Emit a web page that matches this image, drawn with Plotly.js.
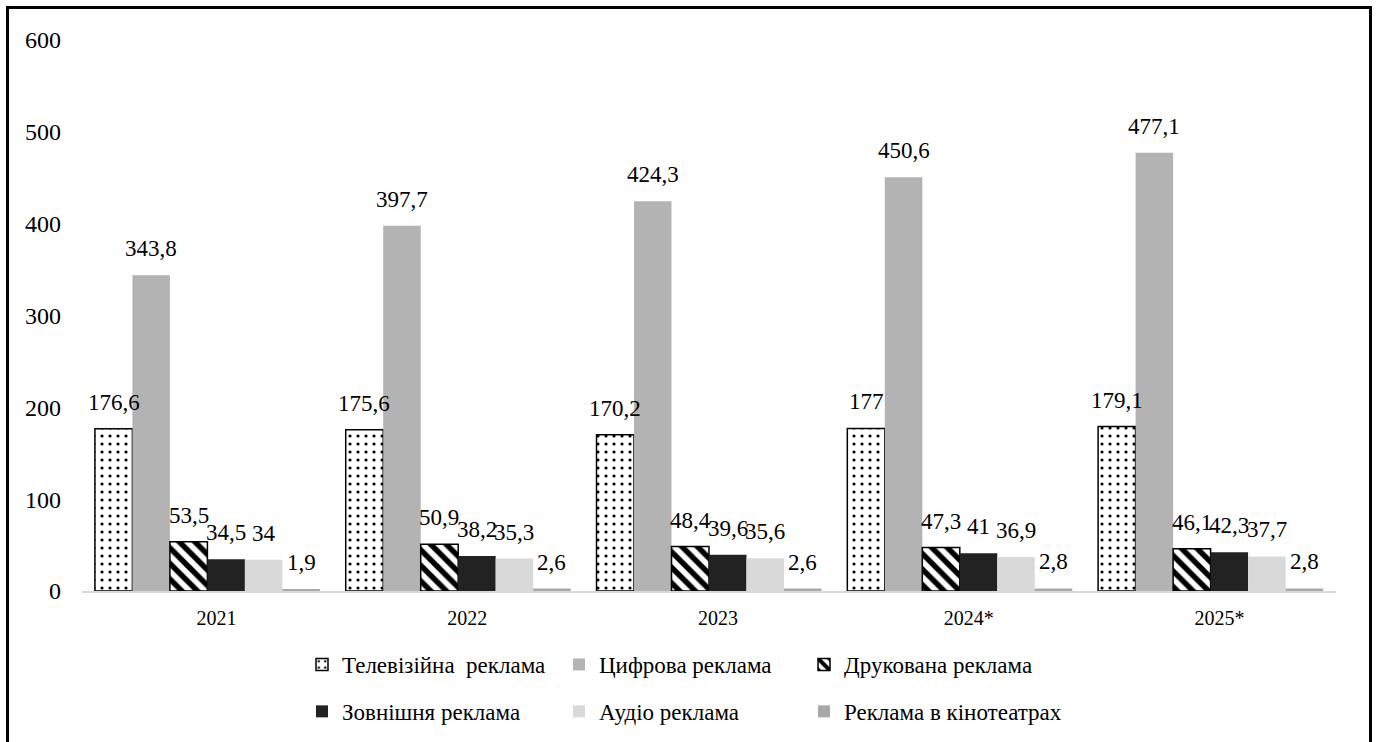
<!DOCTYPE html>
<html>
<head>
<meta charset="utf-8">
<script src="https://cdn.plot.ly/plotly-3.0.1.min.js"></script>
<style>
  html, body { margin: 0; padding: 0; background: #fff; overflow: hidden; }
  #chart { position: absolute; left: 0; top: 0; width: 1376px; height: 742px; }
  #frame { position: absolute; left: 6px; top: 6px; width: 1360px; height: 760px;
           border: 3px solid #000; pointer-events: none; }
</style>
</head>
<body>
<div id="chart"></div>
<div id="frame"></div>
<script>
// ---- data ----
const years = ['2021', '2022', '2023', '2024*', '2025*'];
const seriesNames = ['Телевізійна  реклама', 'Цифрова реклама', 'Друкована реклама',
                     'Зовнішня реклама', 'Аудіо реклама', 'Реклама в кінотеатрах'];
const tvAds      = [176.6, 175.6, 170.2, 177, 179.1];
const digitalAds = [343.8, 397.7, 424.3, 450.6, 477.1];
const printAds   = [53.5, 50.9, 48.4, 47.3, 46.1];
const outdoorAds = [34.5, 38.2, 39.6, 41, 42.3];
const audioAds   = [34, 35.3, 35.6, 36.9, 37.7];
const cinemaAds  = [1.9, 2.6, 2.6, 2.8, 2.8];
const yTicks     = [0, 100, 200, 300, 400, 500, 600];

// ---- layout constants ----
const W = 1376, H = 742;
const M = {l: 82, r: 40, t: 40, b: 151, autoexpand: false};
const bargap = 0.103;
const FONT = 'Liberation Serif, Times New Roman, serif';

const allSeries = [tvAds, digitalAds, printAds, outdoorAds, audioAds, cinemaAds];
const styles = [
  {color: '#ffffff', line: {color: '#000', width: 1.5}, pattern: {shape: '.', fgcolor: '#000', bgcolor: '#fff', size: 8, solidity: 0.12}},
  {color: '#b3b3b3', line: {width: 0}},
  {color: '#ffffff', line: {color: '#000', width: 1.5}, pattern: {shape: '\\', fgcolor: '#000', bgcolor: '#fff', size: 11, solidity: 0.5}},
  {color: '#222222', line: {width: 0}},
  {color: '#d9d9d9', line: {width: 0}},
  {color: '#a8a8a8', line: {width: 0}}
];
const legendOf = ['legend', 'legend2', 'legend3', 'legend', 'legend2', 'legend3'];

const traces = allSeries.map((vals, i) => ({
  type: 'bar',
  name: seriesNames[i],
  x: years,
  y: vals,
  marker: Object.assign({}, {color: styles[i].color, line: styles[i].line}, styles[i].pattern ? {pattern: styles[i].pattern} : {}),
  legend: legendOf[i],
  legendgroup: 'g' + i,
  hoverinfo: 'x+y+name'
}));

// value labels as annotations (centred above each bar)
const plotW = W - M.l - M.r;
const catW = plotW / years.length;
const barW = catW * (1 - bargap) / allSeries.length;
const annotations = [];
allSeries.forEach((vals, i) => {
  vals.forEach((v, j) => {
    annotations.push({
      x: j, y: v, xref: 'x', yref: 'y',          // j = category index of years[j]
      text: String(v).replace('.', ','),
      showarrow: false,
      xanchor: 'center', yanchor: 'bottom',
      xshift: (i - (allSeries.length - 1) / 2) * barW,
      yshift: 12,
      font: {family: FONT, size: 23, color: '#000'}
    });
  });
});

const legendCommon = {
  orientation: 'v',
  xref: 'container', yref: 'container',
  xanchor: 'left', yanchor: 'top',
  font: {family: FONT, size: 23, color: '#000'},
  bgcolor: 'rgba(0,0,0,0)',
  borderwidth: 0,
  tracegroupgap: 14,
  itemclick: false, itemdoubleclick: false
};

const layout = {
  width: W, height: H,
  margin: M,
  paper_bgcolor: '#fff',
  plot_bgcolor: '#fff',
  barmode: 'group',
  bargap: bargap,
  bargroupgap: 0,
  separators: ', ',
  font: {family: FONT, size: 20, color: '#000'},
  showlegend: true,
  xaxis: {
    type: 'category',
    categoryarray: years, categoryorder: 'array',
    range: [-0.5, years.length - 0.5],
    autorange: false,
    showgrid: false,
    showline: true, linecolor: '#d9d9d9', linewidth: 2,
    ticks: '', ticklabelshift: 9, ticklabelstandoff: 8,
    tickfont: {family: FONT, size: 20, color: '#000'},
    automargin: false,
    fixedrange: true
  },
  yaxis: {
    range: [0, 600],
    autorange: false,
    tickvals: yTicks,
    ticktext: yTicks.map(String),
    showgrid: false, zeroline: false, showline: false,
    ticks: '', ticklabelstandoff: 20,
    tickfont: {family: FONT, size: 24, color: '#000'},
    automargin: false,
    fixedrange: true
  },
  legend:  Object.assign({}, legendCommon, {x: 302 / W, y: 1 - 643 / H}),
  legend2: Object.assign({}, legendCommon, {x: 559 / W, y: 1 - 643 / H}),
  legend3: Object.assign({}, legendCommon, {x: 804 / W, y: 1 - 643 / H}),
  annotations: annotations
};

Plotly.newPlot('chart', traces, layout, {displayModeBar: false, staticPlot: false});
</script>
</body>
</html>
